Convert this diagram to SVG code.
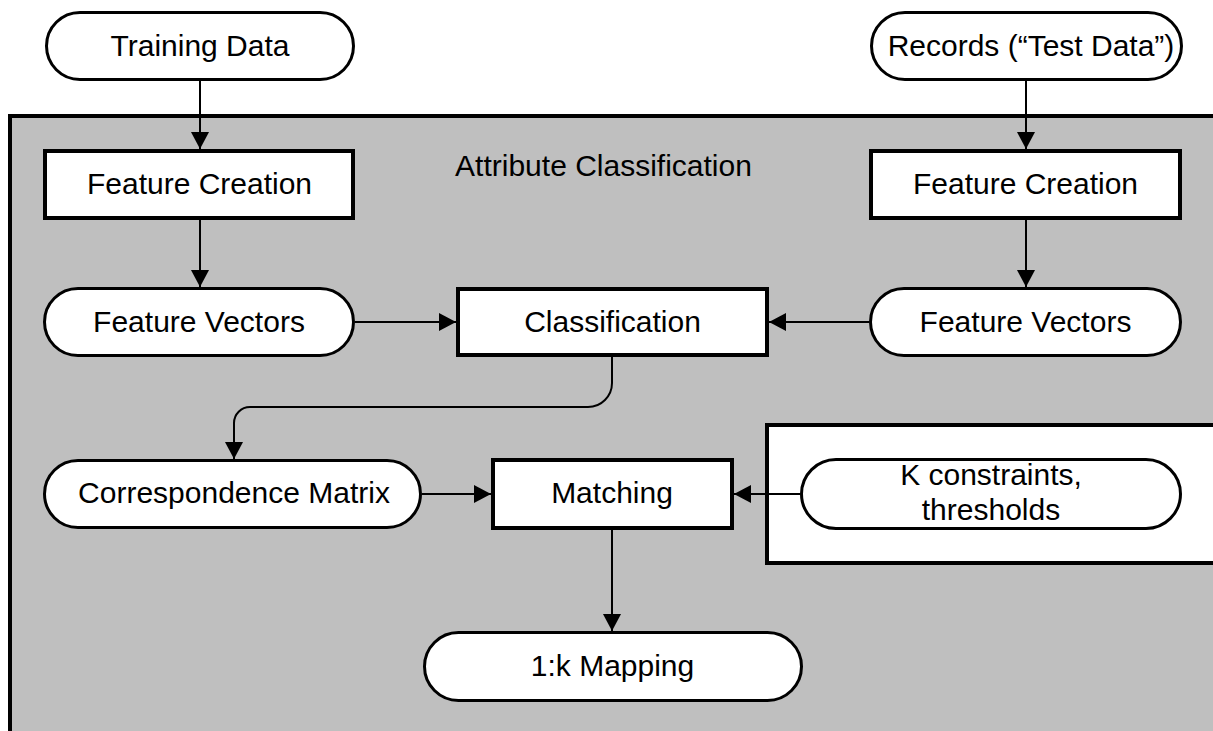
<svg xmlns="http://www.w3.org/2000/svg" width="1213" height="731" viewBox="0 0 1213 731">
<defs>
<marker id="arr" viewBox="0 0 17 18" refX="17" refY="9" markerWidth="17" markerHeight="18" markerUnits="userSpaceOnUse" orient="auto">
<path d="M0,0 L17,9 L0,18 z" fill="#000"/>
</marker>
</defs>
<style>
text{font-family:"Liberation Sans",Arial,sans-serif;font-size:30px;fill:#000;text-anchor:middle}
.pill{fill:#fff;stroke:#000;stroke-width:3}
.box{fill:#fff;stroke:#000;stroke-width:4}
.conn{fill:none;stroke:#000;stroke-width:2;marker-end:url(#arr)}
</style>
<rect x="0" y="0" width="1213" height="731" fill="#fff"/>
<g id="container">
<rect x="10" y="116" width="1230" height="650" fill="#bfbfbf" stroke="#000" stroke-width="4"/>
<text x="603.5" y="176">Attribute Classification</text>
</g>
<g id="k-panel">
<rect x="767" y="425" width="500" height="138" fill="#fff" stroke="#000" stroke-width="4"/>
</g>
<g id="connectors">
<path class="conn" d="M200,81 V149"/>
<path class="conn" d="M200,220 V287"/>
<path class="conn" d="M1026,81 V149"/>
<path class="conn" d="M1026,220 V287"/>
<path class="conn" d="M355,322 H456"/>
<path class="conn" d="M869,322 H769"/>
<path class="conn" d="M612,357 V383 A24,24 0 0 1 588,407 H250 A16,16 0 0 0 234,423 V459"/>
<path class="conn" d="M422,494 H491"/>
<path class="conn" d="M800,494 H734"/>
<path class="conn" d="M612,530 V631"/>
</g>
<g id="training-data">
<rect class="pill" x="46.5" y="12.5" width="307" height="67" rx="33.5"/>
<text x="200" y="56">Training Data</text>
</g>
<g id="records">
<rect class="pill" x="871.5" y="12.5" width="310" height="67" rx="33.5"/>
<text x="1031" y="56">Records (“Test Data”)</text>
</g>
<g id="feature-creation-left">
<rect class="box" x="45" y="151" width="308" height="67"/>
<text x="199.5" y="194">Feature Creation</text>
</g>
<g id="feature-creation-right">
<rect class="box" x="871" y="151" width="309" height="67"/>
<text x="1025.5" y="194">Feature Creation</text>
</g>
<g id="feature-vectors-left">
<rect class="pill" x="44.5" y="288.5" width="309" height="67" rx="33.5"/>
<text x="199" y="332">Feature Vectors</text>
</g>
<g id="classification">
<rect class="box" x="458" y="289" width="309" height="66"/>
<text x="612.5" y="332">Classification</text>
</g>
<g id="feature-vectors-right">
<rect class="pill" x="870.5" y="288.5" width="310" height="67" rx="33.5"/>
<text x="1025.5" y="332">Feature Vectors</text>
</g>
<g id="correspondence-matrix">
<rect class="pill" x="44.5" y="460.5" width="376" height="67" rx="33.5"/>
<text x="234" y="503">Correspondence Matrix</text>
</g>
<g id="matching">
<rect class="box" x="493" y="460" width="239" height="68"/>
<text x="612" y="503">Matching</text>
</g>
<g id="k-constraints">
<rect class="pill" x="801.5" y="459.5" width="379" height="69" rx="34.5"/>
<text x="991" y="485">K constraints,</text>
<text x="991" y="520">thresholds</text>
</g>
<g id="mapping">
<rect class="pill" x="424.5" y="632.5" width="377" height="68" rx="34"/>
<text x="612.5" y="676">1:k Mapping</text>
</g>
</svg>
